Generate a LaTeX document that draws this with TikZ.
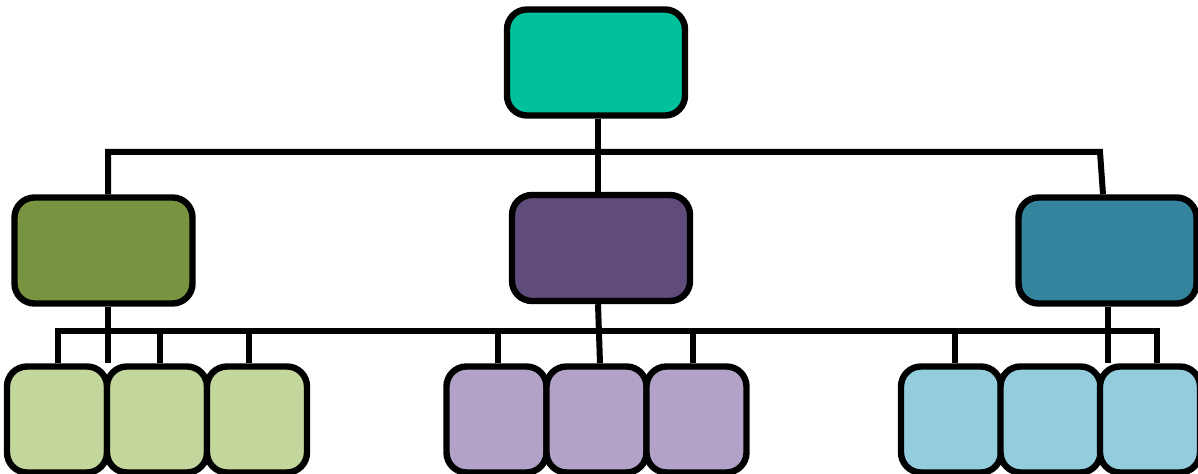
\documentclass[tikz,border=0pt]{standalone}
\usepackage{xcolor}
\usepackage{tikz}
\usetikzlibrary{calc}

\definecolor{topcol}{RGB}{0,193,156}
\definecolor{greencol}{RGB}{120,148,64}
\definecolor{purplecol}{RGB}{96,76,124}
\definecolor{tealcol}{RGB}{51,132,156}
\definecolor{lightgreen}{RGB}{195,214,155}
\definecolor{lightpurple}{RGB}{178,162,199}
\definecolor{lightteal}{RGB}{147,205,221}

\begin{document}
\begin{tikzpicture}[x=0.5pt,y=-0.5pt,
			every node/.style={draw,rectangle,rounded corners=10pt,line width=3.2pt,inner sep=0pt},
			bigbox/.style={minimum width=89pt,minimum height=53pt},
			smallbox/.style={minimum width=50pt,minimum height=53pt},
			bus/.style={line width=3pt}]
		\useasboundingbox (0,0) rectangle (1198,474);
		% top and middle row
		\node[bigbox,fill=topcol] (root) at (596,62.5) {};
		\node[bigbox,fill=greencol] (green) at (103.5,250.5) {};
		\node[bigbox,fill=purplecol] (purple) at (601,248) {};
		\node[bigbox,fill=tealcol] (teal) at (1107.5,250.5) {};
		% bottom row
		\foreach \n/\x in {g1/57,g2/157,g3/257}
			\node[smallbox,fill=lightgreen] (\n) at (\x,419.5) {};
		\foreach \n/\x in {p1/496.5,p2/596.5,p3/696.5}
			\node[smallbox,fill=lightpurple] (\n) at (\x,419.5) {};
		\foreach \n/\x in {t1/951,t2/1050.5,t3/1150}
			\node[smallbox,fill=lightteal] (\n) at (\x,419.5) {};
		% connectors
		\coordinate (topL) at (108,152);
		\coordinate (topR) at (1100,152);
		\coordinate (lowL) at (58,331);
		\coordinate (lowR) at (1157,331);
		\draw[bus] (topL |- green.north) -- (topL) -- (topR) -- ([xshift=-2.25pt]teal.north);
		\draw[bus] ([xshift=1pt]root.south) -- ([xshift=1pt]root.south |- purple.north);
		\draw[bus] (lowL |- g1.north) -- (lowL) -- (lowR) -- (lowR |- t3.north);
		\draw[bus] ([xshift=2.25pt]green.south) -- ([xshift=2.25pt]green.south |- g1.north);
		\draw[bus] ([xshift=-1.5pt]purple.south) -- ([xshift=1.75pt]p2.north);
		\draw[bus] (teal.south) -- (teal.south |- t3.north);
		\foreach \b/\s in {g2/1.5,g3/-4,p1/0.75,p3/-1.75,t1/2}
			\draw[bus] ([xshift=\s pt]\b.north) -- ([xshift=\s pt]\b.north |- lowL);
\end{tikzpicture}
\end{document}
